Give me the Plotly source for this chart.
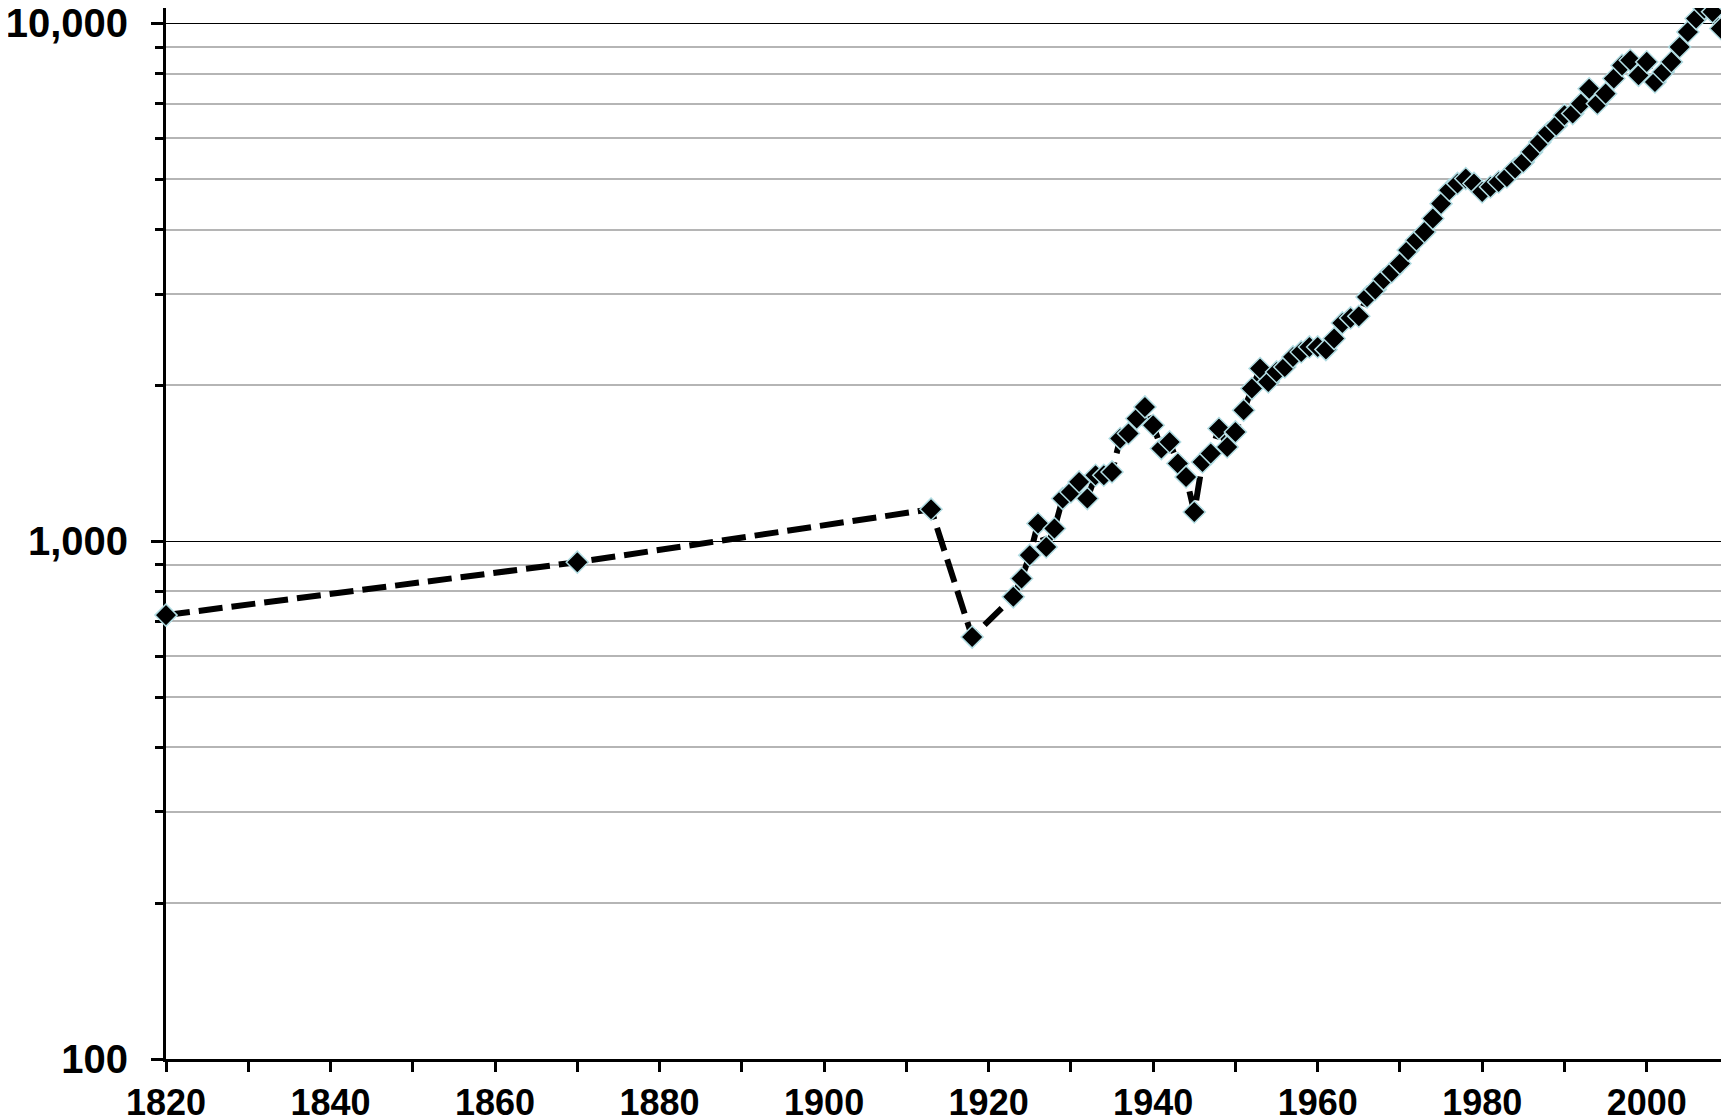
import plotly.graph_objects as go

years = [1820, 1870, 1913, 1918,
         1923, 1924, 1925, 1926, 1927, 1928, 1929, 1930, 1931, 1932, 1933, 1934, 1935,
         1936, 1937, 1938, 1939, 1940, 1941, 1942, 1943, 1944, 1945, 1946, 1947, 1948,
         1949, 1950, 1951, 1952, 1953, 1954, 1955, 1956, 1957, 1958, 1959, 1960, 1961,
         1962, 1963, 1964, 1965, 1966, 1967, 1968, 1969, 1970, 1971, 1972, 1973, 1974,
         1975, 1976, 1977, 1978, 1979, 1980, 1981, 1982, 1983, 1984, 1985, 1986, 1987,
         1988, 1989, 1990, 1991, 1992, 1993, 1994, 1995, 1996, 1997, 1998, 1999, 2000,
         2001, 2002, 2003, 2004, 2005, 2006, 2007, 2008, 2009]

values = [720, 911, 1153, 653,
          781, 847, 940, 1082, 975, 1058, 1209, 1245, 1302, 1209, 1341, 1341, 1361,
          1579, 1615, 1726, 1817, 1675, 1510, 1555, 1413, 1331, 1139, 1423, 1477, 1651,
          1521, 1626, 1791, 1972, 2156, 2031, 2123, 2171, 2270, 2321, 2373, 2373, 2345,
          2463, 2640, 2700, 2720, 2964, 3065, 3205, 3313, 3438, 3650, 3815, 3958, 4200,
          4488, 4764, 4909, 5018, 4909, 4729, 4835, 4943, 5054, 5246, 5403, 5649, 5900,
          6150, 6350, 6650, 6700, 7000, 7480, 7000, 7320, 7830, 8300, 8490, 7940, 8430,
          7710, 8060, 8430, 9010, 9630, 10220, 10690, 10530, 9780]

x_tick_vals = [1820, 1840, 1860, 1880, 1900, 1920, 1940, 1960, 1980, 2000]
x_tick_text = ["1820", "1840", "1860", "1880", "1900", "1920", "1940", "1960", "1980", "2000"]
y_tick_vals = [100, 1000, 10000]
y_tick_text = ["100", "1,000", "10,000"]
y_minor_vals = [m * 10 ** e for e in (2, 3, 4) for m in range(2, 10)]

FONT = "Liberation Sans, Arial, sans-serif"

fig = go.Figure()
fig.add_trace(go.Scatter(
    x=years, y=values, mode="lines+markers",
    line=dict(color="black", width=6, dash="24px,9px"),
    marker=dict(symbol="diamond", size=17, color="black",
                line=dict(color="#b2dde3", width=1.5)),
    cliponaxis=False, showlegend=False,
))

# page body has an 8px default margin, so the figure is sized to fill the rest
fig.update_layout(
    width=1721, height=1112,
    margin=dict(l=158, r=0, t=0, b=61),
    paper_bgcolor="white", plot_bgcolor="white",
    xaxis=dict(
        range=[1820, 2010], tickmode="array", tickvals=x_tick_vals, ticktext=x_tick_text,
        ticks="outside", ticklen=10, tickwidth=3, tickcolor="black",
        showline=True, linecolor="black", linewidth=3, automargin=False,
        showgrid=False, zeroline=False, layer="below traces",
        tickfont=dict(family=FONT, size=36, color="black", weight="bold"),
        ticklabelstandoff=0, ticklabeloverflow="allow",
        minor=dict(dtick=10, tick0=1820, ticks="outside", ticklen=10, tickwidth=3,
                   tickcolor="black", showgrid=False),
    ),
    yaxis=dict(
        type="log", range=[2, 4.0299], tickmode="array", tickvals=y_tick_vals, ticktext=y_tick_text,
        ticks="outside", ticklen=12, tickwidth=3, tickcolor="black",
        showline=True, linecolor="black", linewidth=3, automargin=False,
        showgrid=True, gridcolor="black", gridwidth=1.2, zeroline=False, layer="below traces",
        tickfont=dict(family=FONT, size=40, color="black", weight="bold"),
        ticklabelstandoff=15, ticklabeloverflow="allow",
        minor=dict(tickmode="array", tickvals=y_minor_vals, ticks="outside", ticklen=8, tickwidth=3,
                   tickcolor="black", showgrid=True, gridcolor="#b5b5b5", gridwidth=1.5),
    ),
)

fig.write_html("out.html")
